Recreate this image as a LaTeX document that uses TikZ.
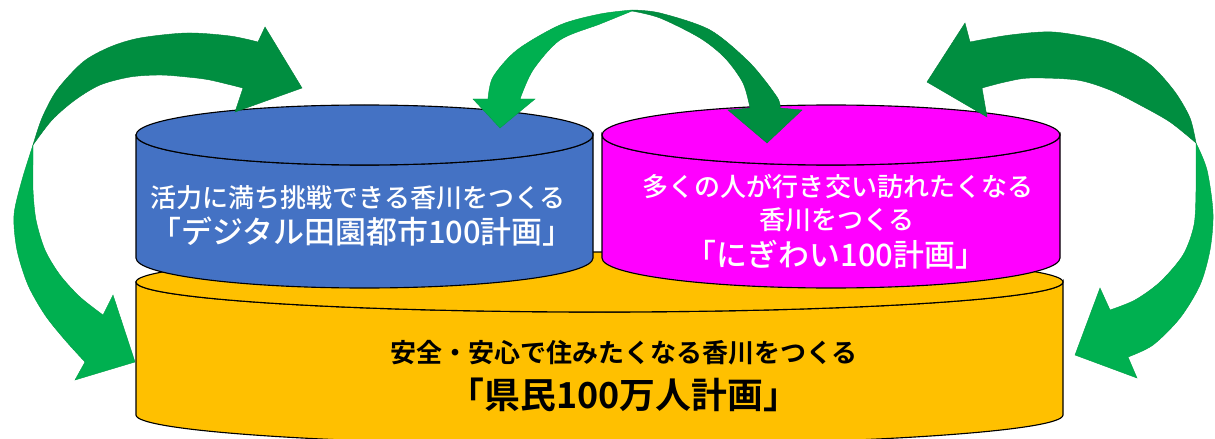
\documentclass[tikz,border=0pt]{standalone}
\usepackage{fontspec}
\newfontfamily\jpfont{Noto Sans CJK JP}[BoldFont={* Medium}]
\newfontfamily\jpheavy{Noto Sans CJK JP}[UprightFont={* Bold}]

\definecolor{drumblue}{RGB}{68,114,196}
\definecolor{drumpink}{RGB}{255,0,255}
\definecolor{drumgold}{RGB}{255,192,0}
\definecolor{ltgreen}{RGB}{0,176,80}
\definecolor{dkgreen}{RGB}{0,142,64}

\tikzset{
    leadtxt/.style={font=\jpfont\bfseries\fontsize{18.5}{20}\selectfont},
    plantxt/.style={font=\jpfont\bfseries\fontsize{#1}{28}\selectfont},
    plantxt/.default=22,
    goldtxt/.style={font=\jpheavy\fontsize{#1}{28}\selectfont},
    darkarrow/.style={fill=dkgreen, draw=dkgreen!90!black, line width=0.3pt},
    lightarrow/.style={fill=ltgreen, draw=ltgreen!90!black, line width=0.3pt},
}

\begin{document}
\begin{tikzpicture}[x=0.025cm, y=-0.025cm, line width=0.8pt]
        \useasboundingbox (0, 0) rectangle (1215, 439);

        \newcommand{\drum}[5]{
            \filldraw[fill=#5] (#1-#4, #2) -- (#1-#4, #3)
                arc[start angle=180, end angle=0, x radius=#4, y radius=30]
                -- (#1+#4, #2)
                arc[start angle=0, end angle=180, x radius=#4, y radius=30] -- cycle;
            \filldraw[fill=#5] (#1, #2) ellipse [x radius=#4, y radius=30];
        }

        \drum{599.5}{282}{415}{463.5}{drumgold}
        \drum{364.5}{135}{258}{228.5}{drumblue}
        \drum{831}{135}{258}{229}{drumpink}

        \node[leadtxt, text=white] (bluelead) at (358, 198) {活力に満ち挑戦できる香川をつくる};
        \node[plantxt, text=white] (blueplan) at (362, 232) {「デジタル田園都市100計画」};
        \node[leadtxt, text=white] (pinklead) at (838, 187) {多くの人が行き交い訪れたくなる};
        \node[leadtxt, text=white] (pinkkagawa) at (837, 220) {香川をつくる};
        \node[plantxt, text=white] (pinkplan) at (836, 255) {「にぎわい100計画」};
        \node[goldtxt=18.5] (goldlead) at (624, 353) {安全・安心で住みたくなる香川をつくる};
        \node[goldtxt=25.5] (goldplan) at (624, 395) {「県民100万人計画」};

        % left loop
        \filldraw[darkarrow] plot[smooth] coordinates {(33,145) (42,118) (57,90) (83,62) (110,47) (140,38) (187,33) (230,36) (258,42)}
            -- (265,27) -- (302,88) -- (235,112)
            -- plot[smooth] coordinates {(243,88) (210,80) (187,77) (160,75) (130,77) (100,85) (75,100) (52,120) (33,145)} -- cycle;
        \filldraw[lightarrow] plot[smooth] coordinates {(33,145) (22,180) (14,215) (17,250) (28,285) (45,315) (65,340) (85,362)}
            -- (75,380) -- (135,362) -- (113,295)
            -- plot[smooth] coordinates {(103,315) (80,297) (60,275) (45,250) (36,220) (33,190) (33,165) (33,145)} -- cycle;

        % right loop
        \filldraw[darkarrow] plot[smooth] coordinates {(1196,143) (1190,118) (1175,92) (1153,67) (1130,52) (1100,40) (1053,32) (1010,35) (970,42)}
            -- (965,23) -- (927,82) -- (987,117)
            -- plot[smooth] coordinates {(982,88) (1005,82) (1030,78) (1077,80) (1110,90) (1140,105) (1170,122) (1196,143)} -- cycle;
        \filldraw[lightarrow] plot[smooth] coordinates {(1196,143) (1207,170) (1213,213) (1210,250) (1200,285) (1180,318) (1153,345) (1128,357)}
            -- (1137,378) -- (1075,355) -- (1100,288)
            -- plot[smooth] coordinates {(1110,310) (1135,300) (1160,282) (1183,255) (1194,225) (1196,190) (1196,160) (1196,143)} -- cycle;

        % middle bridge
        \filldraw[lightarrow] plot[smooth] coordinates {(632,10) (600,14) (560,25) (517,50) (493,77) (488,99)}
            -- (473,99) -- (500,128) -- (535,99)
            -- plot[smooth] coordinates {(520,99) (533,70) (560,40) (600,24) (632,11)} -- cycle;
        \filldraw[darkarrow] plot[smooth] coordinates {(632,10) (660,13) (710,30) (750,63) (777,97) (780,108)}
            -- (802,110) -- (767,143) -- (728,110)
            -- plot[smooth] coordinates {(750,108) (743,83) (725,58) (700,38) (660,18) (632,11)} -- cycle;
    \end{tikzpicture}
\end{document}
